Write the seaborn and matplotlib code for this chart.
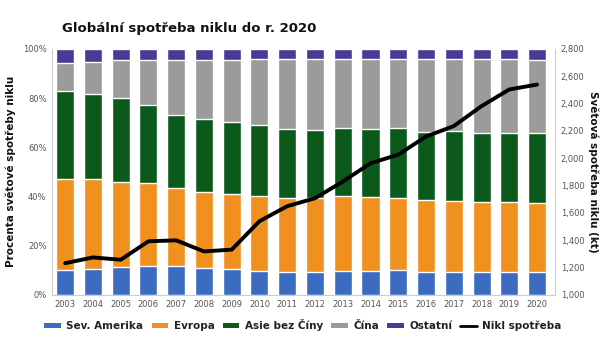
import numpy as np
import pandas as pd
import matplotlib
matplotlib.use("Agg")
import matplotlib.pyplot as plt
import seaborn as sns
from matplotlib.patches import Patch
from matplotlib.lines import Line2D
from matplotlib.ticker import FuncFormatter

years = [str(y) for y in range(2003, 2021)]
# cumulative tops (% of world consumption)
sev_amerika = [10.2, 10.6, 11.3, 11.6, 11.6, 10.9, 10.5, 9.9, 9.5, 9.5, 9.8, 9.8, 10.2, 9.5, 9.5, 9.2, 9.2, 9.2]
evropa_top = [47.3, 47.1, 45.9, 45.6, 43.5, 41.9, 41.1, 40.3, 39.5, 39.3, 40.0, 39.6, 39.3, 38.6, 38.1, 37.9, 37.7, 37.5]
asie_top = [83.0, 81.6, 79.9, 77.3, 73.2, 71.3, 70.3, 69.1, 67.3, 67.1, 67.8, 67.4, 67.8, 66.4, 66.5, 66.0, 66.0, 65.7]
cina_top = [94.1, 94.6, 95.5, 95.5, 95.5, 95.5, 95.5, 95.8, 95.9, 95.7, 95.7, 95.7, 95.7, 95.7, 95.7, 95.7, 95.7, 95.5]
ostatni_top = [100.0] * 18
nikl_spotreba = [1232, 1274, 1257, 1392, 1399, 1318, 1331, 1539, 1649, 1707, 1829, 1963, 2026, 2159, 2235, 2381, 2503, 2539]

labels = ["Sev. Amerika", "Evropa", "Asie bez Číny", "Čína", "Ostatní"]
colors = ["#3b6cc2", "#f0901f", "#0b5a1c", "#9b9b9b", "#4a3a96"]
tops = [sev_amerika, evropa_top, asie_top, cina_top, ostatni_top]

sns.set_theme(style="white")
plt.rcParams['font.family'] = ['DejaVu Sans']

fig = plt.figure(figsize=(6.06, 3.37), dpi=100)
ax = fig.add_axes([0.086, 0.125, 0.83, 0.73])

for lab, col, top in reversed(list(zip(labels, colors, tops))):
    df = pd.DataFrame({"year": years, "val": top})
    sns.barplot(data=df, x="year", y="val", color=col, width=0.65,
                saturation=1, ax=ax, zorder=2)

ax.set_xlim(-0.47, 17.65)
ax.set_ylim(0, 100)
ax.set_yticks(range(0, 101, 20))
ax.yaxis.set_major_formatter(FuncFormatter(lambda v, p: f"{int(v)}%"))
ax.set_xlabel("")
ax.set_ylabel("Procenta světové spotřeby niklu", fontsize=7.5, fontweight="bold", color="#111111", labelpad=5)
ax.tick_params(axis="both", labelsize=6, colors="#555555", length=0, pad=4)
for s in ["top", "right"]:
    ax.spines[s].set_visible(False)
for s in ["left", "bottom"]:
    ax.spines[s].set_color("#cccccc")
    ax.spines[s].set_linewidth(0.8)

ax2 = ax.twinx()
dfl = pd.DataFrame({"x": np.arange(len(years)), "kt": nikl_spotreba})
sns.lineplot(data=dfl, x="x", y="kt", color="black", linewidth=2.8, ax=ax2, zorder=5)
ax2.set_ylim(1000, 2800)
ax2.set_yticks(range(1000, 2801, 200))
ax2.yaxis.set_major_formatter(FuncFormatter(lambda v, p: f"{int(v):,}"))
ax2.set_xlim(-0.47, 17.65)
ax2.set_xlabel("")
ax2.set_ylabel("Světová spotřeba niklu (kt)", fontsize=7.5, fontweight="bold", color="#111111",
               rotation=-90, labelpad=10)
ax2.tick_params(axis="y", labelsize=6, colors="#555555", length=0, pad=4)
for s in ["top", "left", "bottom"]:
    ax2.spines[s].set_visible(False)
ax2.spines["right"].set_color("#cccccc")
ax2.spines["right"].set_linewidth(0.8)

fig.text(0.312, 0.915, "Globální spotřeba niklu do r. 2020", ha="center", va="center",
         fontsize=9.5, fontweight="bold", color="#111111")

handles = [Patch(facecolor=c, edgecolor="none") for c in colors]
handles.append(Line2D([0], [0], color="black", linewidth=2))
leg = fig.legend(handles, labels + ["Nikl spotřeba"], loc="center", bbox_to_anchor=(0.5, 0.035),
                 ncol=6, frameon=False, fontsize=7.5, handlelength=1.6, handleheight=0.5,
                 columnspacing=0.8, handletextpad=0.5)
for t in leg.get_texts():
    t.set_fontweight("bold")
    t.set_color("#222222")

fig.savefig("out.png", dpi=100)
